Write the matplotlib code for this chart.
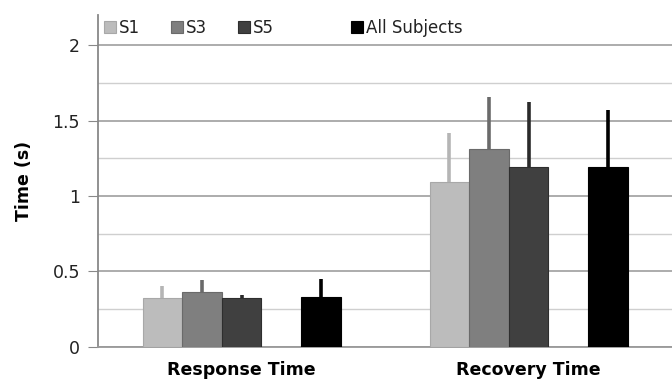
import matplotlib.pyplot as plt
import numpy as np

plt.rcParams['font.family'] = ['DejaVu Sans']

# datos
grupos = ['Response Time', 'Recovery Time']
series = ['S1', 'S3', 'S5', 'All Subjects']
medias = {
    'S1': [0.325, 1.09],
    'S3': [0.36, 1.31],
    'S5': [0.32, 1.195],
    'All Subjects': [0.33, 1.195],
}
errores = {
    'S1': [0.075, 0.33],
    'S3': [0.08, 0.35],
    'S5': [0.02, 0.43],
    'All Subjects': [0.12, 0.375],
}
colores = ['#bcbcbc', '#7f7f7f', '#404040', '#000000']
colores_err = ['#b5b5b5', '#6a6a6a', '#2a2a2a', '#000000']
bordes = ['#a8a8a8', '#6a6a6a', '#2e2e2e', '#000000']

fig, ax = plt.subplots(figsize=(6.72, 3.81), dpi=100)
fig.subplots_adjust(left=0.146, right=1.0, top=0.96, bottom=0.09)

x = np.arange(len(grupos))
w = 0.138
desp = [-2 * w, -w, 0, 2 * w]

for k, s in enumerate(series):
    ax.bar(x + desp[k], medias[s], w, color=colores[k], edgecolor=bordes[k],
           linewidth=0.8, label=s, zorder=3)
    ax.errorbar(x + desp[k], medias[s],
                yerr=[np.zeros(len(grupos)), errores[s]],
                fmt='none', ecolor=colores_err[k], elinewidth=2.6, capsize=0,
                zorder=4)

ax.set_xlim(-0.5, 1.5)
ax.set_ylim(0, 2.2)
ax.set_yticks([0, 0.5, 1, 1.5, 2])
ax.set_yticklabels(['0', '0.5', '1', '1.5', '2'])
ax.set_yticks(np.arange(0.25, 2.0, 0.5), minor=True)
ax.grid(axis='y', which='major', color='#a6a6a6', linewidth=1.3, zorder=0)
ax.grid(axis='y', which='minor', color='#cfcfcf', linewidth=1.0, zorder=0)
ax.set_axisbelow(True)

ax.set_xticks(x)
ax.set_xticklabels(grupos, fontweight='bold', fontsize=12.5)
ax.tick_params(axis='x', length=0, pad=10)
ax.tick_params(axis='y', which='major', length=7, color='#888888',
               labelsize=12.5, labelcolor='#222222', pad=6)
ax.tick_params(axis='y', which='minor', length=0)

ax.set_ylabel('Time (s)', fontweight='bold', fontsize=12.5, labelpad=14)

for lado in ['top', 'right']:
    ax.spines[lado].set_visible(False)
ax.spines['left'].set_color('#888888')
ax.spines['bottom'].set_color('#999999')
ax.spines['left'].set_linewidth(1.3)
ax.spines['bottom'].set_linewidth(1.3)

# leyenda con un hueco entre S5 y All Subjects
h, l = ax.get_legend_handles_labels()
hueco = plt.Rectangle((0, 0), 1, 1, fc='none', ec='none')
h = h[:3] + [hueco] + h[3:]
l = l[:3] + [''] + l[3:]
ax.legend(h, l, ncol=5, loc='upper left', bbox_to_anchor=(-0.016, 1.035),
          frameon=False, fontsize=12, handlelength=0.75, handleheight=0.75,
          handletextpad=0.15, columnspacing=1.85, labelcolor='#222222')

plt.savefig('out.png', dpi=100)
